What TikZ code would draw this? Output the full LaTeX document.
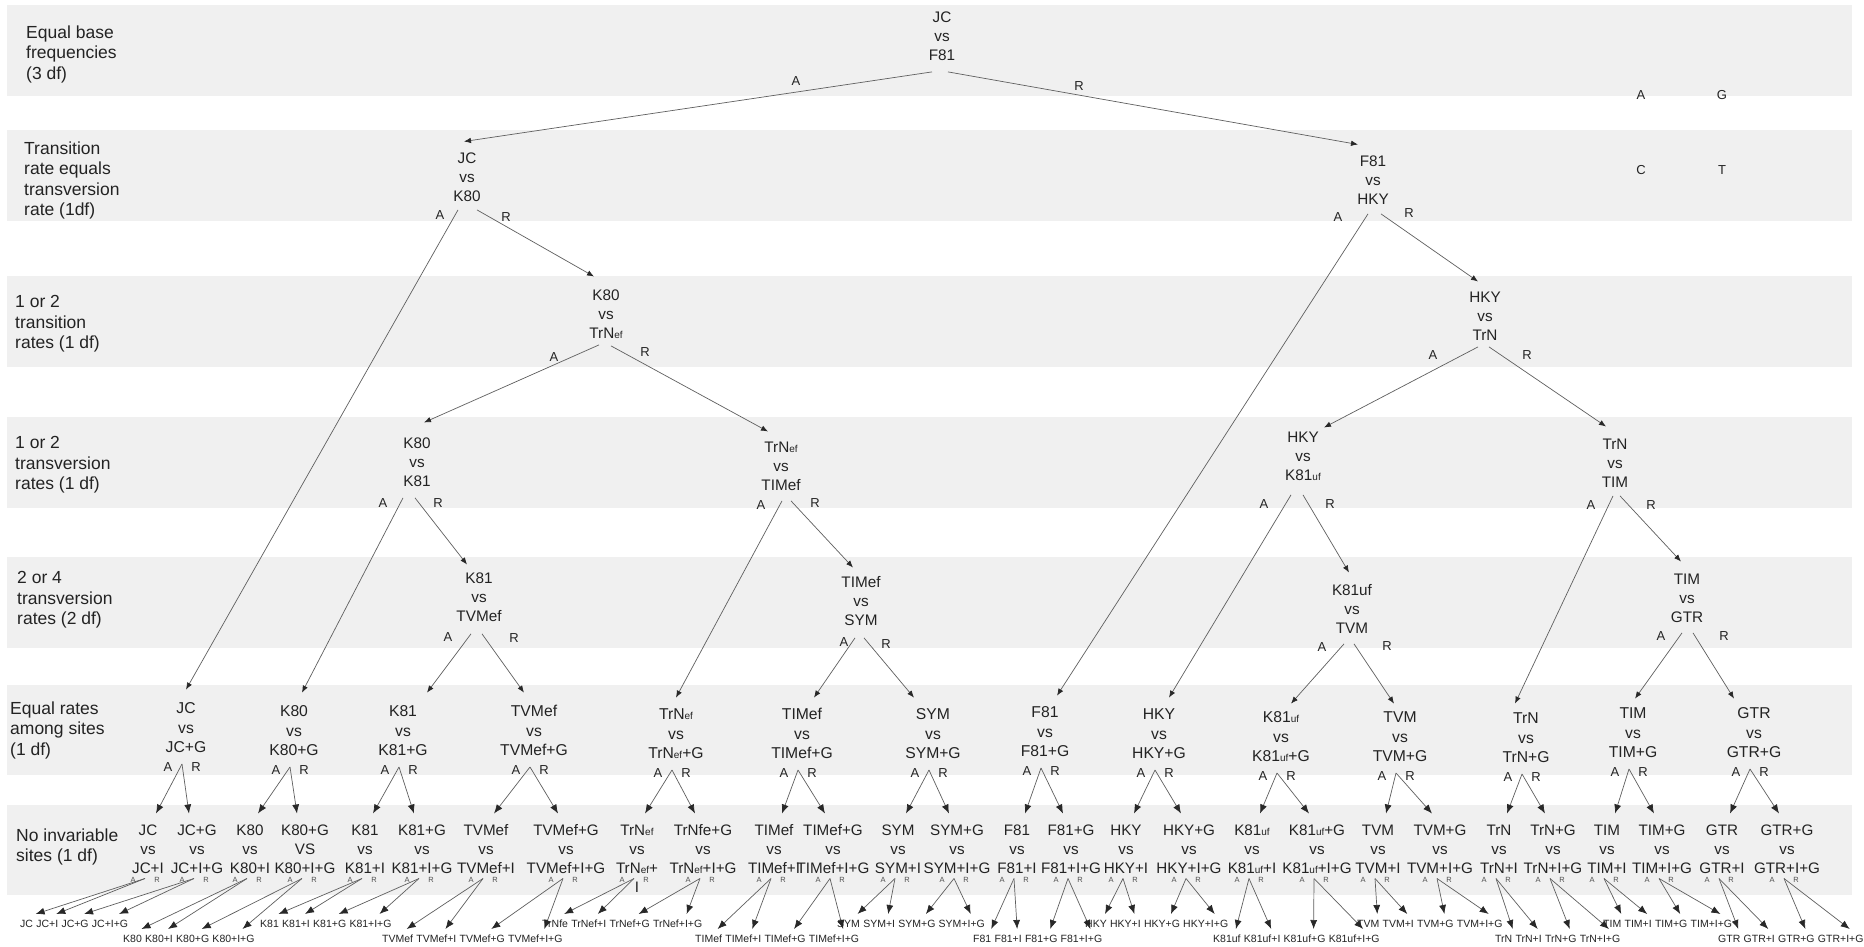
\documentclass[tikz,border=0pt]{standalone}
\usepackage{fontspec}
\setmainfont{Liberation Sans}
\usetikzlibrary{arrows.meta}
\definecolor{bandgray}{RGB}{240,240,240}
\definecolor{ink}{RGB}{35,35,35}
\definecolor{wirec}{RGB}{95,95,95}
\definecolor{tipc}{RGB}{40,40,40}
% smaller suffix letters (TrN_ef, K81_uf)
\newcommand\sm[1]{{\fontsize{10}{10}\selectfont #1}}
% fixed line strut so that every three-line node has the same height
\newcommand\strU{\rule[-4pt]{0pt}{16pt}}
\newcommand\tri[3]{\strU#1\\\strU#2\\\strU#3}
\begin{document}
\begin{tikzpicture}[x=1pt,y=-1pt,
  band/.style={fill=bandgray,draw=none},
  sidelab/.style={align=left,anchor=north west,inner sep=0pt,text=ink,font=\fontsize{17.5}{20.5}\selectfont},
  upnode/.style={align=center,anchor=north,inner sep=0pt,text=ink,font=\fontsize{15.3}{19}\selectfont},
  sixnode/.style={align=center,anchor=north,inner sep=0pt,text=ink,font=\fontsize{15.7}{19.5}\selectfont},
  sevnode/.style={align=center,anchor=north,inner sep=0pt,text=ink,font=\fontsize{15.2}{19}\selectfont},
  leaf/.style={anchor=north west,inner sep=0pt,text height=7.5pt,text depth=0pt,text=ink,font=\fontsize{10.5}{12}\selectfont},
  lab/.style={inner sep=0pt,text=ink,font=\fontsize{13}{14}\selectfont},
  tinylab/.style={inner sep=0pt,text=ink!80,font=\fontsize{7.5}{8}\selectfont},
  conn/.style={draw=wirec,line width=0.7pt,-{Latex[length=7pt,width=5.5pt,color=tipc]}},
  connb/.style={draw=wirec,line width=0.7pt,-{Latex[length=9pt,width=7pt,color=tipc]}},
]
\fill[white] (0,0) rectangle (1864,947);
\useasboundingbox (0,0) rectangle (1864,947);

% level bands
\foreach \ya/\yb in {5/96,130/221,276/367,417/508,557/648,685/775,805/895}
  \fill[band] (7,\ya) rectangle (1852,\yb);

% level captions
\node[sidelab] (t1) at (26,25.5) {Equal base\\frequencies\\(3 df)};
\node[sidelab] (t2) at (24,141.5) {Transition\\rate equals\\transversion\\rate (1df)};
\node[sidelab] (t3) at (15,295.5) {1 or 2\\transition\\rates (1 df)};
\node[sidelab] (t4) at (15,436.5) {1 or 2\\transversion\\rates (1 df)};
\node[sidelab] (t5) at (17,571.5) {2 or 4\\transversion\\rates (2 df)};
\node[sidelab] (t6) at (10,701.5) {Equal rates\\among sites\\(1 df)};
\node[sidelab] (t7) at (16,828.5) {No invariable\\sites (1 df)};

% base letters
\node[lab] (bA) at (1641,95) {A};
\node[lab] (bG) at (1722,95) {G};
\node[lab] (bC) at (1641,170) {C};
\node[lab] (bT) at (1722,170) {T};

% upper tests
\node[upnode] (n1)  at (942,10.5)   {\tri{JC}{vs}{F81}};
\node[upnode] (n2a) at (467,151.5)  {\tri{JC}{vs}{K80}};
\node[upnode] (n2b) at (1373,154.5) {\tri{F81}{vs}{HKY}};
\node[upnode] (n3a) at (606,288.5)  {\tri{K80}{vs}{TrN\sm{ef}}};
\node[upnode] (n3b) at (1485,290.5) {\tri{HKY}{vs}{TrN}};
\node[upnode] (n4a) at (417,436.5)  {\tri{K80}{vs}{K81}};
\node[upnode] (n4b) at (781,440.5)  {\tri{TrN\sm{ef}}{vs}{TIMef}};
\node[upnode] (n4c) at (1303,430.5) {\tri{HKY}{vs}{K81\sm{uf}}};
\node[upnode] (n4d) at (1615,437.5) {\tri{TrN}{vs}{TIM}};
\node[upnode] (n5a) at (479,571.5)  {\tri{K81}{vs}{TVMef}};
\node[upnode] (n5b) at (861,575.5)  {\tri{TIMef}{vs}{SYM}};
\node[upnode] (n5c) at (1352,583.5) {\tri{K81uf}{vs}{TVM}};
\node[upnode] (n5d) at (1687,572.5) {\tri{TIM}{vs}{GTR}};

% A / R labels of the upper tests
\foreach \xa/\ya/\xr/\yr in {796/81/1079/86, 440/215/506/217, 1338/217/1409/213,
   554/357/645/352, 1433/355/1527/355, 383/503/438/503, 761/505/815/503,
   1264/504/1330/504, 1591/505/1651/505, 448/637/514/638, 844/642/886/644,
   1322/647/1387/646, 1661/636/1724/636}{
  \node[lab] at (\xa,\ya) {A};
  \node[lab] at (\xr,\yr) {R};
}

% rate-heterogeneity tests
\foreach \k/\x/\y/\ta/\tb in {JC/186/708/JC/JC+G, K80/294/711/K80/K80+G,
   K81/403/711/K81/K81+G, TVMef/534/711/TVMef/TVMef+G,
   TrNef/676/714/TrN\sm{ef}/TrN\sm{ef}+G, TIMef/802/714/TIMef/TIMef+G,
   SYM/933/714/SYM/SYM+G, F81/1045/712/F81/F81+G, HKY/1159/714/HKY/HKY+G,
   K81uf/1281/717/K81\sm{uf}/K81\sm{uf}+G, TVM/1400/717/TVM/TVM+G,
   TrN/1526/718/TrN/TrN+G, TIM/1633/713/TIM/TIM+G, GTR/1754/713/GTR/GTR+G}{
  \node[sixnode] (s\k) at (\x,\y-6.4) {\tri{\ta}{vs}{\tb}};
  \node[lab] at ([xshift=-18pt,yshift=-10pt]s\k.south) {A};
  \node[lab] at ([xshift=10pt,yshift=-10pt]s\k.south) {R};
}

% invariable-sites tests
\foreach \k/\x/\ta/\tv/\tb in {pJC/148/JC/vs/JC+I, qJC/197/JC+G/vs/JC+I+G,
   pK80/250/K80/vs/K80+I, qK80/305/K80+G/VS/K80+I+G,
   pK81/365/K81/vs/K81+I, qK81/422/K81+G/vs/K81+I+G,
   pTVMef/486/TVMef/vs/TVMef+I, qTVMef/566/TVMef+G/vs/TVMef+I+G,
   qTrNef/703/TrNfe+G/vs/TrN\sm{ef}+I+G,
   pTIMef/774/TIMef/vs/TIMef+I, qTIMef/833/TIMef+G/vs/TIMef+I+G,
   pSYM/898/SYM/vs/SYM+I, qSYM/957/SYM+G/vs/SYM+I+G,
   pF81/1017/F81/vs/F81+I, qF81/1071/F81+G/vs/F81+I+G,
   pHKY/1126/HKY/vs/HKY+I, qHKY/1189/HKY+G/vs/HKY+I+G,
   pK81uf/1252/K81\sm{uf}/vs/K81\sm{uf}+I, qK81uf/1317/K81\sm{uf}+G/vs/K81\sm{uf}+I+G,
   pTVM/1378/TVM/vs/TVM+I, qTVM/1440/TVM+G/vs/TVM+I+G,
   pTrN/1499/TrN/vs/TrN+I, qTrN/1553/TrN+G/vs/TrN+I+G,
   pTIM/1607/TIM/vs/TIM+I, qTIM/1662/TIM+G/vs/TIM+I+G,
   pGTR/1722/GTR/vs/GTR+I, qGTR/1787/GTR+G/vs/GTR+I+G}{
  \node[sevnode] (\k) at (\x,823.5) {\tri{\ta}{\tv}{\tb}};
}
\node[sevnode] (pTrNef) at (637,823.5) {\strU TrN\sm{ef}\\\strU vs\\\strU TrN\sm{ef}+\\\strU I};
\foreach \k in {pJC,qJC,pK80,qK80,pK81,qK81,pTVMef,qTVMef,pTrNef,qTrNef,pTIMef,qTIMef,
   pSYM,qSYM,pF81,qF81,pHKY,qHKY,pK81uf,qK81uf,pTVM,qTVM,pTrN,qTrN,pTIM,qTIM,pGTR,qGTR}{
  \node[tinylab] at ([xshift=-15pt,yshift=-56pt]\k.north) {A};
  \node[tinylab] at ([xshift=9pt,yshift=-56pt]\k.north) {R};
}

% connectors between the upper tests
\draw[conn] ([xshift=-10pt,yshift=-7pt]n1.south) -- ([xshift=-3pt,yshift=10pt]n2a.north);
\draw[conn] ([xshift=6pt,yshift=-7pt]n1.south) -- ([xshift=-15pt,yshift=10pt]n2b.north);
\draw[conn] ([xshift=-9pt,yshift=-4pt]n2a.south) -- ([yshift=12pt]sJC.north);
\draw[conn] ([xshift=10pt,yshift=-4pt]n2a.south) -- ([xshift=-12pt,yshift=12pt]n3a.north);
\draw[conn] ([xshift=-5pt,yshift=-5pt]n2b.south) -- ([xshift=12pt,yshift=10pt]sF81.north);
\draw[conn] ([xshift=8pt,yshift=-5pt]n2b.south) -- ([xshift=-7pt,yshift=9pt]n3b.north);
\draw[conn] ([xshift=-7pt,yshift=-2pt]n3a.south) -- ([xshift=7pt,yshift=14pt]n4a.north);
\draw[conn] ([xshift=5pt,yshift=-3pt]n3a.south) -- ([xshift=-13pt,yshift=9pt]n4b.north);
\draw[conn] ([xshift=-7pt,yshift=-2pt]n3b.south) -- ([xshift=21pt,yshift=3pt]n4c.north);
\draw[conn] ([xshift=4pt,yshift=-2pt]n3b.south) -- ([xshift=-9pt,yshift=11pt]n4d.north);
\draw[conn] ([xshift=-14pt,yshift=-7pt]n4a.south) -- ([xshift=8pt,yshift=12pt]sK80.north);
\draw[conn] ([xshift=-2pt,yshift=-7pt]n4a.south) -- ([xshift=-12pt,yshift=7pt]n5a.north);
\draw[conn] ([xshift=1pt,yshift=-6pt]n4b.south) -- ([yshift=10pt]sTrNef.north);
\draw[conn] ([xshift=10pt,yshift=-6pt]n4b.south) -- ([xshift=-8pt,yshift=8pt]n5b.north);
\draw[conn] ([xshift=-12pt,yshift=-10pt]n4c.south) -- ([xshift=10pt,yshift=10pt]sHKY.north);
\draw[conn] ([yshift=-10pt]n4c.south) -- ([xshift=-3pt,yshift=11pt]n5c.north);
\draw[conn] ([xshift=-2pt,yshift=-4pt]n4d.south) -- ([xshift=-11pt,yshift=8pt]sTrN.north);
\draw[conn] ([xshift=5pt,yshift=-4pt]n4d.south) -- ([xshift=-6pt,yshift=11pt]n5d.north);
\draw[conn] ([xshift=-8pt,yshift=-8pt]n5a.south) -- ([xshift=24pt,yshift=12pt]sK81.north);
\draw[conn] ([xshift=3pt,yshift=-8pt]n5a.south) -- ([xshift=-10pt,yshift=12pt]sTVMef.north);
\draw[conn] ([xshift=-6pt,yshift=-8pt]n5b.south) -- ([xshift=12pt,yshift=10pt]sTIMef.north);
\draw[conn] ([xshift=3pt,yshift=-8pt]n5b.south) -- ([xshift=-19pt,yshift=10pt]sSYM.north);
\draw[conn] ([xshift=-8pt,yshift=-6pt]n5c.south) -- ([xshift=10pt,yshift=7pt]sK81uf.north);
\draw[conn] ([xshift=2pt,yshift=-6pt]n5c.south) -- ([xshift=-6pt,yshift=7pt]sTVM.north);
\draw[conn] ([xshift=-5pt,yshift=-6pt]n5d.south) -- ([xshift=2pt,yshift=8pt]sTIM.north);
\draw[conn] ([xshift=6pt,yshift=-6pt]n5d.south) -- ([xshift=-20pt,yshift=8pt]sGTR.north);

% rate-heterogeneity tests to invariable-sites tests
\foreach \k in {JC,K80,K81,TVMef,TrNef,TIMef,SYM,F81,HKY,K81uf,TVM,TrN,TIM,GTR}{
  \draw[connb] ([xshift=-4pt,yshift=-7pt]s\k.south) -- ([xshift=8pt,yshift=10pt]p\k.north);
  \draw[connb] ([xshift=-4pt,yshift=-7pt]s\k.south) -- ([xshift=-8pt,yshift=10pt]q\k.north);
}

% selected models
\foreach \k/\x/\y/\wA/\wB/\wC/\wD in {
   JC/20/920/JC/JC+I/JC+G/JC+I+G, K80/123/935/K80/K80+I/K80+G/K80+I+G,
   K81/260/920/K81/K81+I/K81+G/K81+I+G, TVMef/382/935/TVMef/TVMef+I/TVMef+G/TVMef+I+G,
   TrNef/542/920/TrNfe/TrNef+I/TrNef+G/TrNef+I+G, TIMef/695/935/TIMef/TIMef+I/TIMef+G/TIMef+I+G,
   SYM/837/920/SYM/SYM+I/SYM+G/SYM+I+G, F81/973/935/F81/F81+I/F81+G/F81+I+G,
   HKY/1085/920/HKY/HKY+I/HKY+G/HKY+I+G, K81uf/1213/935/K81uf/K81uf+I/K81uf+G/K81uf+I+G,
   TVM/1357/920/TVM/TVM+I/TVM+G/TVM+I+G, TrN/1495/935/TrN/TrN+I/TrN+G/TrN+I+G,
   TIM/1603/920/TIM/TIM+I/TIM+G/TIM+I+G, GTR/1718/935/GTR/GTR+I/GTR+G/GTR+I+G}{
  \node[leaf] (\k-1) at (\x,\y) {\wA};
  \node[leaf] (\k-2) at ([xshift=2.9pt]\k-1.north east) {\wB};
  \node[leaf] (\k-3) at ([xshift=2.9pt]\k-2.north east) {\wC};
  \node[leaf] (\k-4) at ([xshift=2.9pt]\k-3.north east) {\wD};
  \draw[connb] ([xshift=-3pt,yshift=-55pt]p\k.north) -- ([xshift=9pt,yshift=6pt]\k-1.north);
  \draw[connb] ([xshift=-3pt,yshift=-55pt]p\k.north) -- ([xshift=9pt,yshift=6pt]\k-2.north);
  \draw[connb] ([xshift=-3pt,yshift=-55pt]q\k.north) -- ([xshift=9pt,yshift=6pt]\k-3.north);
  \draw[connb] ([xshift=-3pt,yshift=-55pt]q\k.north) -- ([xshift=9pt,yshift=6pt]\k-4.north);
}
\end{tikzpicture}
\end{document}
